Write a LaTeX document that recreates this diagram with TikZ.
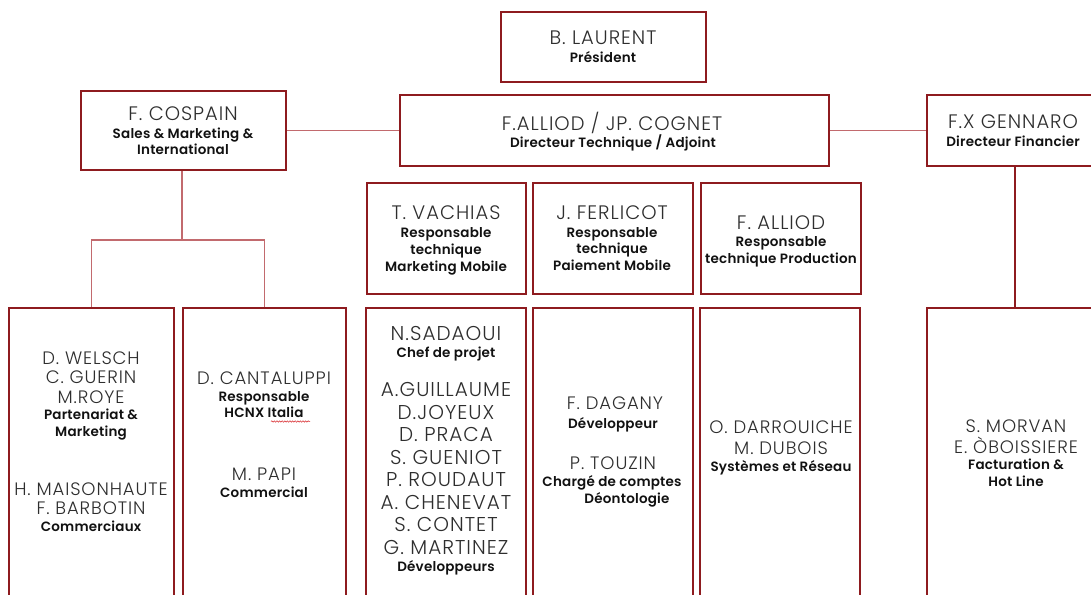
\documentclass[tikz,border=0pt]{standalone}
\usepackage{fontspec}
\setmainfont{Poppins}[UprightFont={* Light}, BoldFont={* SemiBold}]
\newfontfamily\namefam{Poppins}[UprightFont={* Light}, LetterSpace=5]
\newfontfamily\subfam{Poppins}[UprightFont={* SemiBold}, LetterSpace=1.5]
\usetikzlibrary{decorations.pathmorphing}
\definecolor{boxred}{HTML}{8E1B1F}
\definecolor{connred}{HTML}{C26A6E}
\definecolor{namegray}{HTML}{2E2E2E}
\definecolor{subblack}{HTML}{111111}
\definecolor{wavyred}{HTML}{D8282C}
\newcommand{\nmfont}{\namefam\fontsize{18}{20}\selectfont}
\newcommand{\nmbig}{\namefam\fontsize{19.5}{21}\selectfont}
\newcommand{\nmhuge}{\namefam\fontsize{20}{22}\selectfont}
\newcommand{\sbfont}{\subfam\fontsize{13.5}{16}\selectfont}
\tikzset{
  box/.style={draw=boxred, line width=2pt, inner sep=0pt, rectangle},
  conn/.style={draw=connred, line width=1.3pt},
  connd/.style={draw=boxred, line width=1.3pt},
  nm/.style={font=\nmfont, text=namegray, anchor=base, yshift=-6.3pt, inner sep=0pt},
  nmb/.style={font=\nmbig, text=namegray, anchor=base, yshift=-6.8pt, inner sep=0pt},
  nmh/.style={font=\nmhuge, text=namegray, anchor=base, yshift=-7pt, inner sep=0pt},
  sb/.style={font=\sbfont, text=subblack, anchor=base, yshift=-4.8pt, inner sep=0pt},
}
\begin{document}
\begin{tikzpicture}[x=1pt, y=-1pt]
\useasboundingbox (0,0) rectangle (1091,594);
\clip (0,0) rectangle (1091,594);
\fill[white] (0,0) rectangle (1091,594);
% boxes
\node[box, minimum width=205pt, minimum height=70pt] (laurent) at (603.5,47) {};
\node[box, minimum width=205pt, minimum height=79pt] (cospain) at (183.5,130.5) {};
\node[box, minimum width=429pt, minimum height=71pt] (alliod) at (614.5,130.5) {};
\node[box, minimum width=176pt, minimum height=71pt] (gennaro) at (1015,130.5) {};
\node[box, minimum width=159pt, minimum height=111pt] (vachias) at (446.5,238.5) {};
\node[box, minimum width=160pt, minimum height=111pt] (ferlicot) at (613,238.5) {};
\node[box, minimum width=160pt, minimum height=111pt] (falliod) at (780.5,238.5) {};
\node[box, minimum width=165pt, minimum height=332pt] (welsch) at (91.5,474) {};
\node[box, minimum width=163pt, minimum height=332pt] (cantaluppi) at (264.5,474) {};
\node[box, minimum width=160pt, minimum height=332pt] (sadaoui) at (446,474) {};
\node[box, minimum width=160pt, minimum height=332pt] (dagany) at (613,474) {};
\node[box, minimum width=160pt, minimum height=332pt] (darrouiche) at (780,474) {};
\node[box, minimum width=176pt, minimum height=332pt] (morvan) at (1015,474) {};
% connectors
\coordinate (j1) at (182,240);
\draw[conn] (cospain.east) -- (alliod.west);
\draw[conn] (alliod.east) -- (gennaro.west);
\draw[conn] (cospain.south -| j1) -- (j1);
\draw[conn] (welsch.north) |- (j1) -| (cantaluppi.north);
\draw[connd] (gennaro.south) -- (morvan.north);
% texts
\node[nmb] (t1) at (603,38) {B. LAURENT};
\node[sb] (t2) at (603,58) {Président};
\node[nmb] (t3) at (183,114) {F. COSPAIN};
\node[sb] (t4) at (183,134) {Sales \& Marketing \&};
\node[sb] (t5) at (183,150) {International};
\node[nmb] (t6) at (612,124) {F.ALLIOD / JP. COGNET};
\node[sb] (t7) at (613,143) {Directeur Technique / Adjoint};
\node[nmb] (t8) at (1013,122) {F.X GENNARO};
\node[sb] (t9) at (1013,142) {Directeur Financier};
\node[nmb] (t10) at (446,213) {T. VACHIAS};
\node[sb] (t11) at (446,233) {Responsable};
\node[sb] (t12) at (446,250) {technique};
\node[sb] (t13) at (446,267) {Marketing Mobile};
\node[nmb] (t14) at (612,213) {J. FERLICOT};
\node[sb] (t15) at (612,233) {Responsable};
\node[sb] (t16) at (612,249) {technique};
\node[sb] (t17) at (612,266) {Paiement Mobile};
\node[nmb] (t18) at (781,223) {F. ALLIOD};
\node[sb] (t19) at (781,242) {Responsable};
\node[sb] (t20) at (781,259) {technique Production};
% Welsch
\node[nm] (t21) at (91,358) {D. WELSCH};
\node[nm] (t22) at (91,377) {C. GUERIN};
\node[nm] (t23) at (91,397) {M.ROYE};
\node[sb] (t24) at (91,415) {Partenariat \&};
\node[sb] (t25) at (91,432) {Marketing};
\node[nm] (t26) at (91,489) {H. MAISONHAUTE};
\node[nm] (t27) at (91,508) {F. BARBOTIN};
\node[sb] (t28) at (91,527) {Commerciaux};
% Cantaluppi
\node[nm] (t29) at (264,378) {D. CANTALUPPI};
\node[sb] (t30) at (264,397) {Responsable};
\node[sb] (t31) at (264,413) {HCNX Italia};
\draw[wavyred, line width=0.5pt, decorate, decoration={snake, amplitude=0.7pt, segment length=2.6pt}] (271,421.5) -- (310,421.5);
\node[nm] (t32) at (264,474) {M. PAPI};
\node[sb] (t33) at (264,493) {Commercial};
% Sadaoui
\node[nmh] (t34) at (446,333) {N.SADAOUI};
\node[sb] (t35) at (446,353) {Chef de projet};
\node[nmh] (t36) at (446,389) {A.GUILLAUME};
\node[nmh] (t37) at (446,412) {D.JOYEUX};
\node[nmh] (t38) at (446,434) {D. PRACA};
\node[nmh] (t39) at (446,457) {S. GUENIOT};
\node[nmh] (t40) at (446,479) {P. ROUDAUT};
\node[nmh] (t41) at (446,502) {A. CHENEVAT};
\node[nmh] (t42) at (446,524) {S. CONTET};
\node[nmh] (t43) at (446,547) {G. MARTINEZ};
\node[sb] (t44) at (446,567) {Développeurs};
% Dagany
\node[nm] (t45) at (615,403) {F. DAGANY};
\node[sb] (t46) at (613,424) {Développeur};
\node[nm] (t47) at (613,463) {P. TOUZIN};
\node[sb] (t48) at (612,482) {Chargé de comptes};
\node[sb] (t49) at (627,499) {Déontologie};
% Darrouiche
\node[nm] (t50) at (781,427) {O. DARROUICHE};
\node[nm] (t51) at (781,448) {M. DUBOIS};
\node[sb] (t52) at (781,467) {Systèmes et Réseau};
% Morvan
\node[nm] (t53) at (1016,426) {S. MORVAN};
\node[nm] (t54) at (1016,447) {E. ÒBOISSIERE};
\node[sb] (t55) at (1016,465) {Facturation \&};
\node[sb] (t56) at (1016,482) {Hot Line};
\end{tikzpicture}
\end{document}
